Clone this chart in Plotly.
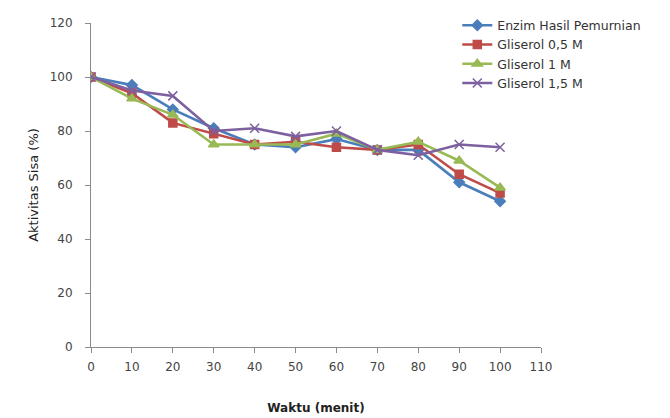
import plotly.graph_objects as go

waktu = [0, 10, 20, 30, 40, 50, 60, 70, 80, 90, 100]
enzim = [100, 97, 88, 81, 75, 74, 77, 73, 73, 61, 54]
gli_05 = [100, 94, 83, 79, 75, 76, 74, 73, 75, 64, 57]
gli_1 = [100, 92, 86, 75, 75, 75, 79, 73, 76, 69, 59]
gli_15 = [100, 95, 93, 80, 81, 78, 80, 73, 71, 75, 74]
x_ticks = list(range(0, 111, 10))
y_ticks = list(range(0, 121, 20))

series = [
    ("Enzim Hasil Pemurnian", enzim, "#4A7EBB", "diamond", 8),
    ("Gliserol 0,5 M", gli_05, "#BE4B48", "square", 8),
    ("Gliserol 1 M", gli_1, "#98B954", "triangle-up", 9),
    ("Gliserol 1,5 M", gli_15, "#7D60A0", "x-thin-open", 9),
]

fig = go.Figure()
for name, vals, col, sym, size in series:
    fig.add_trace(go.Scatter(
        x=waktu, y=vals, name=name, mode="lines+markers",
        line=dict(color=col, width=2.6),
        marker=dict(symbol=sym, size=size, color=col,
                    line=dict(color=col, width=1.5)),
    ))

axis_font = dict(family="DejaVu Sans", size=12, color="#444444")
fig.update_layout(
    width=670, height=418,
    margin=dict(l=91, r=129, t=22, b=71),
    plot_bgcolor="white", paper_bgcolor="white",
    font=dict(family="DejaVu Sans", size=12, color="#333333"),
    xaxis=dict(
        range=[0, 110], tickvals=x_ticks, showgrid=False, zeroline=False,
        showline=True, linecolor="#8a8a8a", linewidth=1, automargin=False,
        ticks="outside", ticklen=5, tickcolor="#8a8a8a",
        tickfont=axis_font, ticklabelstandoff=4,
        title=dict(text="<b>Waktu (menit)</b>", font=dict(family="DejaVu Sans", size=12, color="#222222"), standoff=30),
    ),
    yaxis=dict(
        range=[0, 120], tickvals=y_ticks, showgrid=False, zeroline=False,
        showline=True, linecolor="#8a8a8a", linewidth=1, automargin=False,
        ticks="outside", ticklen=5, tickcolor="#8a8a8a",
        tickfont=axis_font, ticklabelstandoff=10,
        title=dict(text="Aktivitas Sisa (%)", font=dict(family="DejaVu Sans", size=13, color="#222222"), standoff=8),
    ),
    legend=dict(
        x=0.814, y=1.035, xanchor="left", yanchor="top",
        bgcolor="rgba(255,255,255,0)", font=dict(family="DejaVu Sans", size=12.5, color="#333333"),
        tracegroupgap=0, itemwidth=30,
    ),
    showlegend=True,
)

fig.write_html("out.html")
